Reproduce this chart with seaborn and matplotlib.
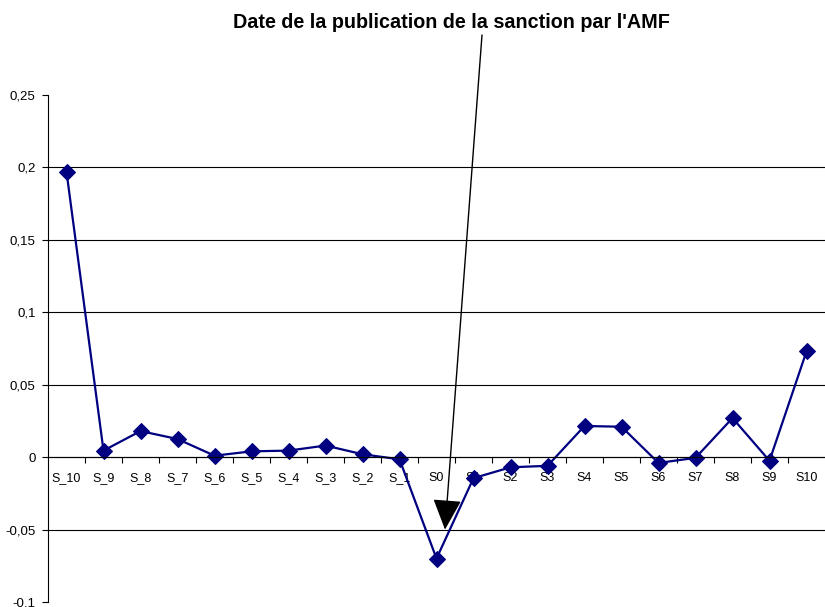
import matplotlib

matplotlib.use("Agg")
import matplotlib.pyplot as plt
import matplotlib.ticker as mticker
import pandas as pd
import seaborn as sns

# event window, in weeks around the publication of the AMF sanction
weeks = [
    "S_10", "S_9", "S_8", "S_7", "S_6", "S_5", "S_4", "S_3", "S_2", "S_1",
    "S0", "S1", "S2", "S3", "S4", "S5", "S6", "S7", "S8", "S9", "S10",
]
values = [
    0.197, 0.0045, 0.018, 0.0125, 0.001, 0.004, 0.0045, 0.008, 0.002, -0.0015,
    -0.070, -0.0145, -0.007, -0.006, 0.0215, 0.021, -0.004, -0.0005, 0.027,
    -0.0025, 0.073,
]
y_ticks = [-0.1, -0.05, 0, 0.05, 0.1, 0.15, 0.2, 0.25]
grid_lines = [-0.05, 0, 0.05, 0.1, 0.15, 0.2]
annotation = "Date de la publication de la sanction par l'AMF"

sns.set_theme(style="white")
plt.rcParams["font.family"] = ["Liberation Sans", "DejaVu Sans"]
plt.rcParams["text.color"] = "black"
plt.rcParams["xtick.color"] = "black"
plt.rcParams["ytick.color"] = "black"

df = pd.DataFrame({"week": weeks, "value": values})
df["pos"] = range(len(weeks))

fig = plt.figure(figsize=(8.25, 6.07), dpi=100)
ax = fig.add_axes([48 / 825, 1 - 602 / 607, 1 - 48 / 825, (602 - 95) / 607])

for g in grid_lines:
    ax.axhline(g, color="black", linewidth=0.8, zorder=0)

sns.lineplot(
    data=df, x="pos", y="value", ax=ax, color="#000080", linewidth=1.6,
    marker="D", markersize=8.5, markeredgecolor="#000080",
)

ax.set_xlim(-0.5, len(weeks) - 0.5)
ax.set_ylim(-0.1, 0.25)
ax.set_xlabel("")
ax.set_ylabel("")

ax.set_yticks(y_ticks)
ax.yaxis.set_major_formatter(
    mticker.FuncFormatter(lambda v, _: f"{v:g}".replace(".", ","))
)
ax.set_xticks(df["pos"])
ax.set_xticklabels(weeks)
ax.set_xticks([p + 0.5 for p in df["pos"][:-1]], minor=True)

for side in ("top", "right"):
    ax.spines[side].set_visible(False)
ax.spines["bottom"].set_position(("data", 0))
ax.spines["left"].set_color("black")
ax.spines["bottom"].set_color("black")
ax.spines["left"].set_linewidth(0.8)
ax.spines["bottom"].set_linewidth(0.8)

ax.tick_params(axis="y", left=True, length=4, width=0.8, color="black",
               labelcolor="black", labelsize=9.5, pad=5)
ax.tick_params(axis="x", which="major", bottom=False, length=0, labelsize=9,
               labelcolor="black", pad=11)
ax.tick_params(axis="x", which="minor", bottom=True, length=4, width=0.8,
               color="black", direction="out")

fig.text(451 / 825, 1 - 23 / 607, annotation, ha="center", va="center",
         fontsize=14.2, fontweight="bold", color="black")
ax.annotate(
    "", xy=(10.23, -0.05), xycoords="data",
    xytext=(482 / 825, 1 - 35 / 607), textcoords="figure fraction",
    arrowprops=dict(arrowstyle="-|>,head_length=1.6,head_width=0.75",
                    color="black", linewidth=1, shrinkA=0, shrinkB=0),
)

fig.savefig("out.png", dpi=100)
plt.close(fig)
